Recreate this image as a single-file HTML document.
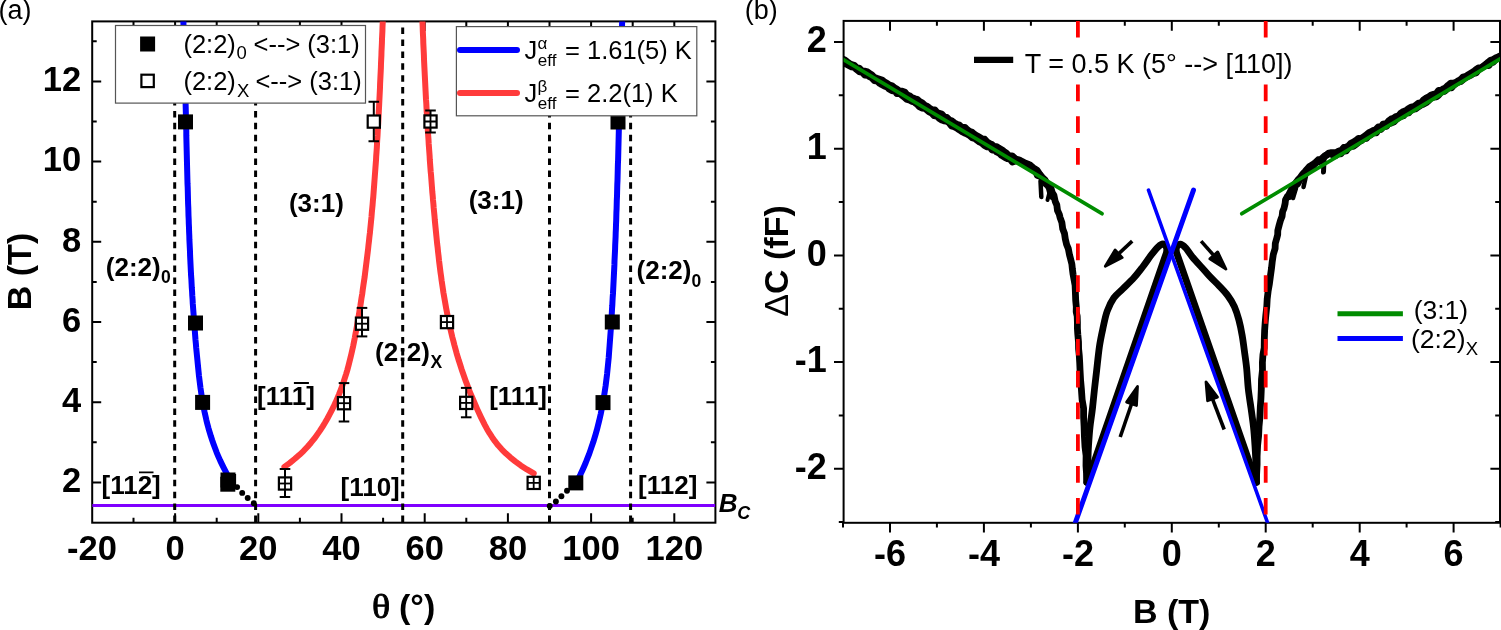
<!DOCTYPE html>
<html><head><meta charset="utf-8"><style>html,body{margin:0;padding:0;background:#fff;overflow:hidden;width:1501px;height:630px}</style></head><body>
<svg width="1501" height="630" viewBox="0 0 1501 630" style="display:block">
<rect width="1501" height="630" fill="#fff"/>
<defs><clipPath id="ca"><rect x="92.2" y="21.4" width="623.1999999999999" height="501.30000000000007"/></clipPath>
<clipPath id="cb"><rect x="843.6" y="20.9" width="656.4" height="501.9"/></clipPath></defs>
<text x="-1.5" y="19.3" font-family="'Liberation Sans', Arial, sans-serif" font-size="27">(a)</text>
<text x="744.8" y="19.3" font-family="'Liberation Sans', Arial, sans-serif" font-size="27">(b)</text>
<rect x="92.2" y="21.4" width="623.1999999999999" height="501.30000000000007" fill="none" stroke="#000" stroke-width="2"/>
<path d="M133.5 522.7 V517.7 M133.5 21.4 V26.4 M175.1 522.7 V513.2 M175.1 21.4 V30.9 M216.7 522.7 V517.7 M216.7 21.4 V26.4 M258.3 522.7 V513.2 M258.3 21.4 V30.9 M299.9 522.7 V517.7 M299.9 21.4 V26.4 M341.5 522.7 V513.2 M341.5 21.4 V30.9 M383.1 522.7 V517.7 M383.1 21.4 V26.4 M424.7 522.7 V513.2 M424.7 21.4 V30.9 M466.3 522.7 V517.7 M466.3 21.4 V26.4 M507.9 522.7 V513.2 M507.9 21.4 V30.9 M549.5 522.7 V517.7 M549.5 21.4 V26.4 M591.1 522.7 V513.2 M591.1 21.4 V30.9 M632.7 522.7 V517.7 M632.7 21.4 V26.4 M674.3 522.7 V513.2 M674.3 21.4 V30.9 M92.2 482.4 H101.2 M715.4 482.4 H706.4 M92.2 442.3 H96.7 M715.4 442.3 H710.9 M92.2 402.2 H101.2 M715.4 402.2 H706.4 M92.2 362.1 H96.7 M715.4 362.1 H710.9 M92.2 322 H101.2 M715.4 322 H706.4 M92.2 281.9 H96.7 M715.4 281.9 H710.9 M92.2 241.8 H101.2 M715.4 241.8 H706.4 M92.2 201.7 H96.7 M715.4 201.7 H710.9 M92.2 161.6 H101.2 M715.4 161.6 H706.4 M92.2 121.5 H96.7 M715.4 121.5 H710.9 M92.2 81.4 H101.2 M715.4 81.4 H706.4 M92.2 41.3 H96.7 M715.4 41.3 H710.9" stroke="#000" stroke-width="2" fill="none"/>
<g clip-path="url(#ca)">
<line x1="92.2" y1="505.4" x2="715.4" y2="505.4" stroke="#7f00ff" stroke-width="3"/>
<line x1="174.7" y1="27.6" x2="174.7" y2="522.7" stroke="#000" stroke-width="3" stroke-dasharray="6.5 5.4"/>
<line x1="255.6" y1="27.6" x2="255.6" y2="522.7" stroke="#000" stroke-width="3" stroke-dasharray="6.5 5.4"/>
<line x1="402.7" y1="27.6" x2="402.7" y2="522.7" stroke="#000" stroke-width="3" stroke-dasharray="6.5 5.4"/>
<line x1="549.5" y1="27.6" x2="549.5" y2="522.7" stroke="#000" stroke-width="3" stroke-dasharray="6.5 5.4"/>
<line x1="630.6" y1="27.6" x2="630.6" y2="522.7" stroke="#000" stroke-width="3" stroke-dasharray="6.5 5.4"/>
<path d="M183.2 15 L183.3 19 L183.4 23 L183.6 27 L183.7 31 L183.8 35.1 L184 39.1 L184.1 43.1 L184.2 47.1 L184.3 51.1 L184.4 55.1 L184.5 59.1 L184.7 63.1 L184.8 67.2 L184.9 71.2 L185 75.2 L185.1 79.2 L185.2 83.2 L185.3 87.2 L185.3 91.2 L185.4 95.2 L185.5 99.3 L185.6 103.3 L185.7 107.3 L185.8 111.3 L185.9 115.3 L186 119.3 L186.1 123.3 L186.2 127.3 L186.3 131.4 L186.3 135.4 L186.4 139.4 L186.5 143.4 L186.6 147.4 L186.7 151.4 L186.8 155.4 L186.9 159.4 L187 163.5 L187.1 167.5 L187.2 171.5 L187.3 175.5 L187.4 179.5 L187.5 183.5 L187.7 187.5 L187.8 191.5 L187.9 195.5 L188 199.6 L188.1 203.6 L188.3 207.6 L188.4 211.6 L188.5 215.6 L188.7 219.6 L188.8 223.6 L189 227.6 L189.1 231.7 L189.3 235.7 L189.4 239.7 L189.6 243.7 L189.8 247.7 L190 251.7 L190.1 255.7 L190.3 259.7 L190.5 263.8 L190.7 267.8 L190.9 271.8 L191.1 275.8 L191.4 279.8 L191.6 283.8 L191.8 287.8 L192.1 291.8 L192.3 295.9 L192.6 299.9 L192.8 303.9 L193.1 307.9 L193.4 311.9 L193.7 315.9 L193.9 319.9 L194.3 323.9 L194.6 327.9 L194.9 332 L195.2 336 L195.5 340 L195.9 344 L196.2 348 L196.6 352 L197 356 L197.4 360 L197.8 364.1 L198.2 368.1 L198.6 372.1 L199 376.1 L199.5 380.1 L200 384.1 L200.5 388.1 L201.1 392.1 L201.7 396.2 L202.4 400.2 L203.1 404.2 L203.8 408.2 L204.6 412.2 L205.5 416.2 L206.4 420.2 L207.4 424.2 L208.5 428.3 L209.7 432.3 L210.9 436.3 L212.2 440.3 L213.6 444.3 L215.1 448.3 L216.6 452.3 L218.3 456.3 L220.1 460.4 L222 464.4 L224 468.4 L226.1 472.4 L228.3 476.4" fill="none" stroke="#0000ff" stroke-width="6" stroke-linecap="round" stroke-linejoin="round"/>
<path d="M622.4 15 L622.3 19 L622.1 23.1 L622 27.1 L621.8 31.1 L621.7 35.2 L621.5 39.2 L621.4 43.2 L621.3 47.3 L621.1 51.3 L621 55.3 L620.9 59.3 L620.8 63.4 L620.6 67.4 L620.5 71.4 L620.4 75.5 L620.3 79.5 L620.2 83.5 L620.1 87.6 L619.9 91.6 L619.8 95.6 L619.7 99.7 L619.6 103.7 L619.5 107.7 L619.4 111.8 L619.3 115.8 L619.2 119.8 L619.1 123.8 L618.9 127.9 L618.8 131.9 L618.7 135.9 L618.6 140 L618.5 144 L618.4 148 L618.3 152.1 L618.2 156.1 L618.1 160.1 L617.9 164.2 L617.8 168.2 L617.7 172.2 L617.6 176.3 L617.5 180.3 L617.3 184.3 L617.2 188.3 L617.1 192.4 L617 196.4 L616.8 200.4 L616.7 204.5 L616.6 208.5 L616.4 212.5 L616.3 216.6 L616.2 220.6 L616 224.6 L615.9 228.7 L615.7 232.7 L615.6 236.7 L615.4 240.8 L615.2 244.8 L615.1 248.8 L614.9 252.8 L614.7 256.9 L614.5 260.9 L614.4 264.9 L614.2 269 L614 273 L613.8 277 L613.6 281.1 L613.4 285.1 L613.2 289.1 L613 293.2 L612.7 297.2 L612.5 301.2 L612.3 305.3 L612 309.3 L611.8 313.3 L611.6 317.3 L611.3 321.4 L611 325.4 L610.8 329.4 L610.5 333.5 L610.2 337.5 L609.9 341.5 L609.6 345.6 L609.3 349.6 L609 353.6 L608.7 357.7 L608.3 361.7 L607.9 365.7 L607.5 369.8 L607.1 373.8 L606.6 377.8 L606.1 381.8 L605.6 385.9 L605 389.9 L604.4 393.9 L603.7 398 L603 402 L602.3 406 L601.5 410.1 L600.7 414.1 L599.8 418.1 L598.8 422.2 L597.8 426.2 L596.8 430.2 L595.6 434.3 L594.4 438.3 L593.2 442.3 L591.8 446.3 L590.4 450.4 L589 454.4 L587.4 458.4 L585.8 462.5 L584.1 466.5 L582.3 470.5 L580.4 474.6 L578.4 478.6" fill="none" stroke="#0000ff" stroke-width="6" stroke-linecap="round" stroke-linejoin="round"/>
<path d="M383 15 L382.9 19 L382.7 23.1 L382.5 27.1 L382.4 31.1 L382.2 35.2 L382 39.2 L381.9 43.2 L381.7 47.3 L381.5 51.3 L381.4 55.3 L381.2 59.4 L381 63.4 L380.9 67.5 L380.7 71.5 L380.5 75.5 L380.3 79.6 L380.1 83.6 L380 87.6 L379.8 91.7 L379.6 95.7 L379.4 99.7 L379.2 103.8 L379 107.8 L378.8 111.8 L378.6 115.9 L378.4 119.9 L378.2 123.9 L377.9 128 L377.7 132 L377.5 136 L377.2 140.1 L377 144.1 L376.8 148.1 L376.5 152.2 L376.2 156.2 L376 160.3 L375.7 164.3 L375.4 168.3 L375.1 172.4 L374.8 176.4 L374.5 180.4 L374.2 184.5 L373.9 188.5 L373.6 192.5 L373.3 196.6 L372.9 200.6 L372.6 204.6 L372.2 208.7 L371.8 212.7 L371.5 216.7 L371.1 220.8 L370.7 224.8 L370.3 228.8 L369.9 232.9 L369.4 236.9 L369 240.9 L368.5 245 L368.1 249 L367.6 253.1 L367.1 257.1 L366.6 261.1 L366.1 265.2 L365.6 269.2 L365.1 273.2 L364.6 277.3 L364 281.3 L363.4 285.3 L362.8 289.4 L362.3 293.4 L361.6 297.4 L361 301.5 L360.4 305.5 L359.7 309.5 L359.1 313.6 L358.4 317.6 L357.7 321.6 L357 325.7 L356.3 329.7 L355.5 333.8 L354.8 337.8 L354 341.8 L353.2 345.9 L352.3 349.9 L351.4 353.9 L350.4 358 L349.4 362 L348.4 366 L347.3 370.1 L346.1 374.1 L344.8 378.1 L343.5 382.2 L342.1 386.2 L340.6 390.2 L339 394.3 L337.3 398.3 L335.6 402.3 L333.7 406.4 L331.7 410.4 L329.6 414.4 L327.4 418.5 L325.1 422.5 L322.6 426.6 L320 430.6 L317.2 434.6 L314.3 438.7 L311 442.7 L307.5 446.7 L303.7 450.8 L299.5 454.8 L294.9 458.8 L289.9 462.9 L284.4 466.9" fill="none" stroke="#ff3b3b" stroke-width="6" stroke-linecap="round" stroke-linejoin="round"/>
<path d="M422.2 15 L422.4 19 L422.5 23 L422.7 27.1 L422.8 31.1 L423 35.1 L423.2 39.1 L423.3 43.1 L423.5 47.2 L423.7 51.2 L423.9 55.2 L424 59.2 L424.2 63.3 L424.4 67.3 L424.6 71.3 L424.8 75.3 L425 79.3 L425.2 83.4 L425.4 87.4 L425.6 91.4 L425.8 95.4 L426 99.4 L426.3 103.5 L426.5 107.5 L426.7 111.5 L427 115.5 L427.2 119.5 L427.4 123.6 L427.7 127.6 L427.9 131.6 L428.2 135.6 L428.5 139.7 L428.7 143.7 L429 147.7 L429.3 151.7 L429.6 155.7 L429.8 159.8 L430.1 163.8 L430.4 167.8 L430.7 171.8 L431.1 175.8 L431.4 179.9 L431.7 183.9 L432 187.9 L432.3 191.9 L432.7 195.9 L433 200 L433.4 204 L433.7 208 L434.1 212 L434.5 216.1 L434.8 220.1 L435.2 224.1 L435.6 228.1 L436 232.1 L436.4 236.2 L436.8 240.2 L437.2 244.2 L437.7 248.2 L438.1 252.2 L438.6 256.3 L439 260.3 L439.5 264.3 L440 268.3 L440.5 272.3 L441.1 276.4 L441.6 280.4 L442.2 284.4 L442.8 288.4 L443.4 292.5 L444.1 296.5 L444.8 300.5 L445.5 304.5 L446.2 308.5 L447 312.6 L447.8 316.6 L448.6 320.6 L449.4 324.6 L450.3 328.6 L451.3 332.7 L452.2 336.7 L453.3 340.7 L454.3 344.7 L455.4 348.7 L456.5 352.8 L457.7 356.8 L458.9 360.8 L460.2 364.8 L461.5 368.9 L462.9 372.9 L464.3 376.9 L465.7 380.9 L467.2 384.9 L468.7 389 L470.3 393 L472 397 L473.7 401 L475.4 405 L477.2 409.1 L479 413.1 L480.9 417.1 L482.9 421.1 L484.9 425.1 L487.1 429.2 L489.5 433.2 L492.1 437.2 L494.9 441.2 L498.1 445.3 L501.7 449.3 L505.7 453.3 L510.2 457.3 L515.2 461.3 L520.7 465.4 L526.9 469.4 L533.7 473.4" fill="none" stroke="#ff3b3b" stroke-width="6" stroke-linecap="round" stroke-linejoin="round"/>
<circle cx="237.1" cy="487.1" r="2.95" fill="#000"/>
<circle cx="242.2" cy="492.9" r="2.95" fill="#000"/>
<circle cx="247.7" cy="498" r="2.95" fill="#000"/>
<circle cx="253.8" cy="503.2" r="2.95" fill="#000"/>
<circle cx="572.5" cy="486" r="2.95" fill="#000"/>
<circle cx="567" cy="490.8" r="2.95" fill="#000"/>
<circle cx="561.4" cy="496.3" r="2.95" fill="#000"/>
<circle cx="555.9" cy="501.5" r="2.95" fill="#000"/>
<circle cx="549.7" cy="505.9" r="2.95" fill="#000"/>
<rect x="178" y="114.4" width="15" height="15" fill="#000"/>
<rect x="188" y="315.5" width="15" height="15" fill="#000"/>
<rect x="195.1" y="394.9" width="15" height="15" fill="#000"/>
<rect x="220.5" y="472.5" width="15" height="15" fill="#000"/>
<rect x="220.3" y="476.7" width="15" height="15" fill="#000"/>
<rect x="221.1" y="474" width="15" height="15" fill="#000"/>
<rect x="610.5" y="114.5" width="15" height="15" fill="#000"/>
<rect x="604.8" y="314.5" width="15" height="15" fill="#000"/>
<rect x="595.5" y="395.1" width="15" height="15" fill="#000"/>
<rect x="568.3" y="475.4" width="15" height="15" fill="#000"/>
<line x1="373.8" y1="101.7" x2="373.8" y2="141.3" stroke="#000" stroke-width="2"/>
<line x1="368.5" y1="101.7" x2="379.1" y2="101.7" stroke="#000" stroke-width="2"/>
<line x1="368.5" y1="141.3" x2="379.1" y2="141.3" stroke="#000" stroke-width="2"/>
<rect x="367.7" y="115.5" width="12.2" height="12.2" fill="#fff" stroke="#000" stroke-width="2.2"/>
<line x1="362" y1="307.9" x2="362" y2="336.4" stroke="#000" stroke-width="2"/>
<line x1="356.7" y1="307.9" x2="367.3" y2="307.9" stroke="#000" stroke-width="2"/>
<line x1="356.7" y1="336.4" x2="367.3" y2="336.4" stroke="#000" stroke-width="2"/>
<rect x="355.9" y="317.6" width="12.2" height="12.2" fill="#fff" stroke="#000" stroke-width="2.2"/>
<line x1="362" y1="317.6" x2="362" y2="329.8" stroke="#000" stroke-width="1.8"/>
<line x1="355.9" y1="323.7" x2="368.1" y2="323.7" stroke="#000" stroke-width="1.8"/>
<line x1="344" y1="383.1" x2="344" y2="421.5" stroke="#000" stroke-width="2"/>
<line x1="338.7" y1="383.1" x2="349.3" y2="383.1" stroke="#000" stroke-width="2"/>
<line x1="338.7" y1="421.5" x2="349.3" y2="421.5" stroke="#000" stroke-width="2"/>
<rect x="337.9" y="397.1" width="12.2" height="12.2" fill="#fff" stroke="#000" stroke-width="2.2"/>
<line x1="344" y1="397.1" x2="344" y2="409.3" stroke="#000" stroke-width="1.8"/>
<line x1="337.9" y1="403.2" x2="350.1" y2="403.2" stroke="#000" stroke-width="1.8"/>
<line x1="285" y1="469" x2="285" y2="497" stroke="#000" stroke-width="2"/>
<line x1="279.7" y1="469" x2="290.3" y2="469" stroke="#000" stroke-width="2"/>
<line x1="279.7" y1="497" x2="290.3" y2="497" stroke="#000" stroke-width="2"/>
<rect x="278.9" y="477.4" width="12.2" height="12.2" fill="#fff" stroke="#000" stroke-width="2.2"/>
<line x1="285" y1="477.4" x2="285" y2="489.6" stroke="#000" stroke-width="1.8"/>
<line x1="278.9" y1="483.5" x2="291.1" y2="483.5" stroke="#000" stroke-width="1.8"/>
<line x1="430.5" y1="110.6" x2="430.5" y2="132.6" stroke="#000" stroke-width="2"/>
<line x1="425.2" y1="110.6" x2="435.8" y2="110.6" stroke="#000" stroke-width="2"/>
<line x1="425.2" y1="132.6" x2="435.8" y2="132.6" stroke="#000" stroke-width="2"/>
<rect x="424.4" y="115.4" width="12.2" height="12.2" fill="#fff" stroke="#000" stroke-width="2.2"/>
<line x1="430.5" y1="115.4" x2="430.5" y2="127.6" stroke="#000" stroke-width="1.8"/>
<line x1="424.4" y1="121.5" x2="436.6" y2="121.5" stroke="#000" stroke-width="1.8"/>
<rect x="440.9" y="316" width="12.2" height="12.2" fill="#fff" stroke="#000" stroke-width="2.2"/>
<line x1="447" y1="316" x2="447" y2="328.2" stroke="#000" stroke-width="1.8"/>
<line x1="440.9" y1="322.1" x2="453.1" y2="322.1" stroke="#000" stroke-width="1.8"/>
<line x1="466.2" y1="387.9" x2="466.2" y2="417.3" stroke="#000" stroke-width="2"/>
<line x1="460.9" y1="387.9" x2="471.5" y2="387.9" stroke="#000" stroke-width="2"/>
<line x1="460.9" y1="417.3" x2="471.5" y2="417.3" stroke="#000" stroke-width="2"/>
<rect x="460.1" y="396.8" width="12.2" height="12.2" fill="#fff" stroke="#000" stroke-width="2.2"/>
<line x1="466.2" y1="396.8" x2="466.2" y2="409" stroke="#000" stroke-width="1.8"/>
<line x1="460.1" y1="402.9" x2="472.3" y2="402.9" stroke="#000" stroke-width="1.8"/>
<rect x="527.6" y="476.8" width="12.2" height="12.2" fill="#fff" stroke="#000" stroke-width="2.2"/>
<line x1="533.7" y1="476.8" x2="533.7" y2="489" stroke="#000" stroke-width="1.8"/>
<line x1="527.6" y1="482.9" x2="539.8" y2="482.9" stroke="#000" stroke-width="1.8"/>
</g>
<g font-family="'Liberation Sans', Arial, sans-serif" font-weight="bold" font-size="34.5"><text x="91.9" y="559.8" text-anchor="middle">-20</text><text x="175.1" y="559.8" text-anchor="middle">0</text><text x="258.3" y="559.8" text-anchor="middle">20</text><text x="341.5" y="559.8" text-anchor="middle">40</text><text x="424.7" y="559.8" text-anchor="middle">60</text><text x="507.9" y="559.8" text-anchor="middle">80</text><text x="591.1" y="559.8" text-anchor="middle">100</text><text x="674.3" y="559.8" text-anchor="middle">120</text><text x="81.2" y="492.2" text-anchor="end">2</text><text x="81.2" y="412" text-anchor="end">4</text><text x="81.2" y="331.8" text-anchor="end">6</text><text x="81.2" y="251.6" text-anchor="end">8</text><text x="81.2" y="171.4" text-anchor="end">10</text><text x="81.2" y="91.2" text-anchor="end">12</text></g>
<text transform="translate(30.8 271.5) rotate(-90)" text-anchor="middle" font-family="'Liberation Sans', Arial, sans-serif" font-weight="bold" font-size="34">B (T)</text>
<text transform="translate(372 617.8) scale(1.1 1)" font-family="'Liberation Serif', serif" font-size="34.5" stroke="#000" stroke-width="0.8">θ</text>
<text x="399" y="617.6" font-family="'Liberation Sans', Arial, sans-serif" font-size="34" font-weight="bold">(°)</text>
<g font-family="'Liberation Sans', Arial, sans-serif" font-weight="bold" font-size="26"><text x="288.9" y="212.1" text-anchor="start">(3:1)</text><text x="468.7" y="209.1" text-anchor="start">(3:1)</text><text x="105.8" y="275.7" text-anchor="start">(2:2)</text><text x="636.6" y="279.3" text-anchor="start">(2:2)</text><text x="375.1" y="361" text-anchor="start">(2:2)</text><text x="257" y="404.7" text-anchor="start">[111]</text><text x="489.2" y="405" text-anchor="start">[111]</text><text x="101.5" y="494.4" text-anchor="start">[112]</text><text x="340.5" y="495.8" text-anchor="start">[110]</text><text x="638.1" y="493.7" text-anchor="start">[112]</text></g>
<g font-family="'Liberation Sans', Arial, sans-serif" font-weight="bold" font-size="17.5"><text x="160.9" y="282.9">0</text><text x="691.4" y="286.6">0</text><text x="430.4" y="368.2">X</text></g>
<path d="M293.9 383H308.9M139 472.4H153.5" stroke="#000" stroke-width="1.9"/>
<text x="718.7" y="511.6" font-family="'Liberation Sans', Arial, sans-serif" font-weight="bold" font-style="italic" font-size="26">B</text>
<text x="737.3" y="518.9" font-family="'Liberation Sans', Arial, sans-serif" font-weight="bold" font-style="italic" font-size="18">C</text>
<rect x="115.5" y="25.5" width="250" height="77.6" fill="#fff" stroke="#555" stroke-width="1.2"/>
<rect x="140.1" y="36.5" width="15" height="15" fill="#000"/>
<rect x="141.4" y="74.7" width="12.4" height="12.4" fill="#fff" stroke="#000" stroke-width="2.2"/>
<g font-family="'Liberation Sans', Arial, sans-serif" font-size="25.5"><text x="183.4" y="52.5">(2:2)</text><text x="236.5" y="59.4" font-size="18.5">0</text><text x="253.5" y="52.5">&lt;--&gt; (3:1)</text><text x="183.4" y="90">(2:2)</text><text x="237" y="96.7" font-size="18.5">X</text><text x="255.4" y="90">&lt;--&gt; (3:1)</text></g>
<rect x="456.4" y="26.6" width="240.4" height="89.2" fill="#fff" stroke="#555" stroke-width="1.2"/>
<line x1="460" y1="50" x2="517" y2="50" stroke="#0000ff" stroke-width="6" stroke-linecap="round"/>
<line x1="460" y1="93" x2="517" y2="93" stroke="#ff3b3b" stroke-width="6" stroke-linecap="round"/>
<g font-family="'Liberation Sans', Arial, sans-serif" font-size="25.5"><text x="524.6" y="59">J</text><text x="537.5" y="49.2" font-size="17">α</text><text x="537.8" y="65.7" font-size="17">eff</text><text x="565" y="59">= 1.61(5) K</text><text x="524.6" y="101.7">J</text><text x="537.5" y="91.8" font-size="17">β</text><text x="537.8" y="108.6" font-size="17">eff</text><text x="565" y="101.7">= 2.2(1) K</text></g>
<rect x="843.6" y="20.9" width="656.4" height="501.9" fill="none" stroke="#000" stroke-width="2"/>
<path d="M843 522.8 V527.6 M890 522.8 V532.6 M890 20.9 V30.7 M936.9 522.8 V527.6 M936.9 20.9 V25.7 M983.9 522.8 V532.6 M983.9 20.9 V30.7 M1030.9 522.8 V527.6 M1030.9 20.9 V25.7 M1077.9 522.8 V532.6 M1077.9 20.9 V30.7 M1124.8 522.8 V527.6 M1124.8 20.9 V25.7 M1171.8 522.8 V532.6 M1171.8 20.9 V30.7 M1218.8 522.8 V527.6 M1218.8 20.9 V25.7 M1265.7 522.8 V532.6 M1265.7 20.9 V30.7 M1312.7 522.8 V527.6 M1312.7 20.9 V25.7 M1359.7 522.8 V532.6 M1359.7 20.9 V30.7 M1406.6 522.8 V527.6 M1406.6 20.9 V25.7 M1453.6 522.8 V532.6 M1453.6 20.9 V30.7 M1500.6 522.8 V527.6 M843.6 522.1 H838.8 M1500.0 522.1 H1495.2 M843.6 468.8 H834 M1500.0 468.8 H1490.4 M843.6 415.5 H838.8 M1500.0 415.5 H1495.2 M843.6 362.1 H834 M1500.0 362.1 H1490.4 M843.6 308.8 H838.8 M1500.0 308.8 H1495.2 M843.6 255.4 H834 M1500.0 255.4 H1490.4 M843.6 202.1 H838.8 M1500.0 202.1 H1495.2 M843.6 148.7 H834 M1500.0 148.7 H1490.4 M843.6 95.3 H838.8 M1500.0 95.3 H1495.2 M843.6 42 H834 M1500.0 42 H1490.4" stroke="#000" stroke-width="2" fill="none"/>
<g clip-path="url(#cb)">
<path d="M841.8 58.6 L844.7 59.8 L847 61.7 L849.1 63.3 L851.5 64.5 L854.1 65.2 L856.9 68 L859.1 68.1 L862.1 70.9 L864.6 71.2 L867.5 71.8 L869.9 73.7 L871.6 74.7 L874.3 77.4 L876.7 78.3 L879.6 79.2 L882 79.9 L884.1 81.6 L887.2 83.4 L889.3 85 L892 85.8 L894.8 87.9 L896.7 89 L899.5 91 L902.2 91.2 L905 92.2 L906.9 94.8 L909.2 95.6 L911.5 97.3 L914.8 98.6 L917.4 99.5 L919.7 101.6 L922.1 102.8 L924.8 105.3 L927 106.2 L929.1 107.8 L932.1 109.8 L934.8 109.9 L936.9 112.2 L939 113.2 L941.7 114 L944.1 116.8 L946.6 117.3 L949.4 120 L951.6 120.7 L954.5 123 L957.3 124.5 L959.3 125.1 L961.9 127.5 L965 127.5 L966.7 129.2 L969.2 131.2 L972.1 132.2 L974 134 L976.9 135.8 L980 137.5 L982 138.9 L984.7 139.2 L987.4 142.2 L989.9 143.7 L991.9 144.4 L994.1 146.4 L996.6 146.7 L999.2 148.4 L1001.8 149.7 L1004 151.4 L1006.6 153.3 L1009 155.8 L1012.1 155.8 L1015.7 159.1 L1018.8 159.8 L1022.4 163.2 L1025.2 163.7 L1028 164.5 L1031.6 167.7 L1035.4 170.2 L1037.3 175.3 L1040.7 176.7 L1043.2 178.9 L1045.5 183.6 L1047.9 185.7 L1049.1 187.7 L1050.5 192.7 L1052.3 196.7" fill="none" stroke="#000" stroke-width="6.8" stroke-linejoin="round" stroke-linecap="round"/>
<path d="M841.8 60.7 L844.8 63.6 L847.4 64.7 L849.8 66 L851.7 67 L854.4 67.5 L856.5 69.4 L859.3 71.7 L862.5 72.6 L864.9 75.1 L867.5 75.3 L869.2 76.5 L871.7 77.9 L874.6 80.7 L877.3 81.3 L879.7 83.4 L881.6 84.5 L884.9 86.2 L887.3 87 L889.2 89.1 L891.8 90.6 L895 91.2 L896.9 93.7 L899.7 93.6 L901.6 95 L904.9 97.7 L906.6 99.2 L910 100.3 L911.9 101.5 L914.1 102 L917.5 104.7 L919.5 106.8 L921.9 108.1 L924.8 108.3 L926.8 109.9 L929.2 112 L931.8 113.2 L934.1 115.7 L936.9 116.2 L939.6 118.6 L941.9 120.1 L944.5 120.9 L947 121.3 L949.4 123.1 L951.5 125.9 L954.2 126.7 L957.2 128.4 L959.3 129.8 L962.1 131.8 L964.1 132.8 L966.7 133.8 L969.8 135.7 L972.1 137.7 L974.9 138.6 L977.1 140.2 L979.5 142 L982 143.2 L984.5 145.5 L987.2 146.9 L989.9 147.1 L992.1 150 L994.8 149.9 L996.6 152 L999.1 153.1 L1001.6 155.4 L1004.8 157.3 L1006.7 158.5 L1009.7 158.8 L1012.4 162 L1017.5 160.3 L1020.7 160.7 L1024.2 162.6 L1026.7 163.6 L1030.3 165.2 L1033.3 167.9 L1037 170.1 L1039.7 174.1 L1042.1 177.2 L1045 180 L1046.9 183.4 L1049.5 186.1 L1050.8 187.6 L1052.2 192.5 L1053.9 195.3 L1055.2 201.4 L1056.8 205 L1057.5 210.5 L1059.3 214.4 L1060.1 217.6 L1061.9 222.7 L1062.7 228.7 L1064.5 233.5 L1065.3 239 L1066.6 244.5 L1068.3 248.6 L1069.5 254.8 L1070.5 258.7 L1071.9 264.3 L1072.4 269.3 L1073.1 274.5 L1074.1 280 L1075.1 285.3 L1075.3 290.3 L1075.5 295.1 L1075.7 300.4 L1076.3 306.7 L1076.2 311.8 L1077.2 316.3 L1077.4 322.2 L1077.4 328.2 L1077.8 334.3 L1078.5 341.9 L1078.6 348.8 L1079.3 355.7 L1079.7 362.5 L1080 369.3 L1080.6 380.4 L1081.4 389.4 L1082.1 399.6 L1083.6 408.3 L1083.6 417 L1084.1 426.9 L1084.4 436.4 L1085 446.8 L1086.1 455.6 L1086 465.8 L1086.5 473.4 L1086.7 482.2" fill="none" stroke="#000" stroke-width="6.8" stroke-linejoin="round" stroke-linecap="round"/>
<path d="M1040.5 181 L1041.3 197" stroke="#000" stroke-width="4.5" stroke-linecap="round"/>
<path d="M1050 190 L1047.5 200" stroke="#000" stroke-width="4" stroke-linecap="round"/>
<path d="M1501 55.5 L1498.2 56.9 L1495.5 57.9 L1493.1 59.6 L1490.5 60.2 L1488.3 62.1 L1486.1 64.1 L1483.8 65.8 L1481.2 67.7 L1478.4 68 L1476.5 69.1 L1473.7 71.5 L1470.5 73.4 L1468.9 74.4 L1466.2 76.2 L1463.1 77 L1461 79.1 L1458.8 80.5 L1456.1 82.1 L1453.7 83.1 L1450.7 83.2 L1448.1 85.3 L1445.6 87.7 L1443.6 88.7 L1441.1 90.3 L1438.5 90.4 L1436.3 93.4 L1433.5 94.4 L1431.2 95 L1428.7 96.9 L1425.6 98.4 L1423.7 99.8 L1421.2 102.8 L1418.5 103.1 L1416 105.2 L1413.8 106.6 L1411.1 107 L1408.1 108.9 L1406.2 110.5 L1403.6 111.4 L1400.6 113.4 L1398.7 115.7 L1396.2 116.4 L1393.5 118.3 L1391 119.1 L1388.9 120.7 L1386.5 123.7 L1383 124.2 L1381.3 126.8 L1378.4 126.9 L1375.7 129.7 L1373.2 130.5 L1370.6 131.9 L1369 132.6 L1366.3 134.8 L1363.9 136.7 L1360.7 138.6 L1358.5 138.3 L1355.5 140.8 L1353.5 141.9 L1350.6 143.5 L1348.3 146 L1345.5 147.3 L1343.8 147.5 L1341.4 150.2 L1338.9 150.9 L1335.9 152.6 L1330.6 152.7 L1327.8 154.3 L1325.6 155.4 L1322.5 159.3 L1319.7 161.5 L1316.9 162.2 L1314.4 164.3 L1311.5 168.3 L1309.5 170.2 L1306.8 172.9 L1304.8 174.4 L1302.2 176.1 L1299.8 179.9 L1297.8 183.8 L1295.1 185.9 L1294.2 188.6 L1292 191.6 L1290.3 195.1 L1289.6 196.5" fill="none" stroke="#000" stroke-width="6.8" stroke-linejoin="round" stroke-linecap="round"/>
<path d="M1501.2 56.7 L1498.6 58.4 L1495.7 59.5 L1493.2 62.4 L1491 62.6 L1488.9 65.6 L1485.9 65.4 L1483.2 66.8 L1480.8 68.3 L1478.2 70.1 L1476.1 72.9 L1473.7 73.4 L1470.9 75.2 L1468.4 76.3 L1465.6 77.7 L1464 78.9 L1461 81.4 L1458.9 82 L1455.8 83.6 L1453.4 85.5 L1451.5 87.8 L1448.9 87.6 L1445.5 90.5 L1443.9 91.5 L1441.1 92.1 L1438.4 95.4 L1436.3 96.8 L1434 97.1 L1430.6 98.4 L1428.5 100.9 L1426.4 102.5 L1423.6 104.1 L1421 105.2 L1418 107.1 L1415.7 108.9 L1413.6 109.2 L1410.6 110.6 L1408.6 112.9 L1405.6 113.2 L1403.5 115.7 L1400.9 116.5 L1398.6 117.6 L1395.8 120 L1394 121.8 L1391.4 123 L1388.2 124 L1386.5 126.4 L1383.3 126.6 L1381 129.4 L1378.4 130 L1376.2 132.9 L1373.2 132.6 L1370.8 134.9 L1368.7 135.9 L1366.3 138.5 L1363.5 138.9 L1361.5 140.6 L1358.8 142 L1355.7 144.5 L1353.3 146.4 L1351 146.4 L1348.2 148.3 L1346.2 150.9 L1343.1 151.3 L1340.7 153.9 L1338.1 153.6 L1335.6 155.8 L1328.6 153.2 L1326.4 155.4 L1324.5 156.2 L1320.9 159.3 L1318.4 159.7 L1315.5 162.5 L1312.5 164.7 L1309.6 166.4 L1307 169.2 L1305.3 171.2 L1302.9 173.8 L1300 177.7 L1298 179.9 L1295.2 183.5 L1293.5 187.8 L1291.6 189.3 L1290.6 191.2 L1288.6 195.1 L1287.4 196.3 L1285.5 199.8 L1285.1 203.6 L1283.9 208.7 L1282.6 211.6 L1282.1 216.2 L1280.5 220.4 L1279.3 224.6 L1277.8 230.5 L1277.7 234.7 L1276.8 238.1 L1275.3 243.4 L1275.1 248.6 L1273.3 254.5 L1272.2 262 L1271.5 268.3 L1270.4 276.2 L1269.4 283.9 L1268.2 290.7 L1267.2 298.9 L1266.8 306.4 L1265.8 315.6 L1265.2 322.2 L1264.6 331.1 L1264.3 339.9 L1264.2 347.9 L1263 354.3 L1262.4 362.5 L1262.5 369.9 L1261.5 379.4 L1261.3 389.3 L1260.9 399.1 L1260.3 407.3 L1259.9 417.1 L1259 426.8 L1258.6 436 L1257.6 445.5 L1257.1 456.2 L1257.1 464.7 L1256.6 474.6 L1256.4 481.9" fill="none" stroke="#000" stroke-width="6.8" stroke-linejoin="round" stroke-linecap="round"/>
<path d="M1306 176 L1303.5 187" stroke="#000" stroke-width="4.5" stroke-linecap="round"/>
<path d="M1324 160 L1323.5 172" stroke="#000" stroke-width="5" stroke-linecap="round"/>
<path d="M1296 188 L1293 198" stroke="#000" stroke-width="4.5" stroke-linecap="round"/>
<path d="M1087.1 482.4 C1087.2 479.5 1087.6 471.1 1087.8 465 C1088 458.9 1088.1 452.3 1088.5 446 C1088.9 439.7 1089.3 433.3 1090 427 C1090.7 420.7 1091.8 414.3 1092.5 408 C1093.2 401.7 1093.8 395.3 1094.5 389 C1095.2 382.7 1095.9 377.1 1096.7 370 C1097.5 362.9 1098.4 353.6 1099.4 346.7 C1100.4 339.8 1101.5 334.8 1102.8 328.9 C1104.1 323 1105.3 316.3 1107.2 311.1 C1109.1 305.9 1111.3 301.5 1113.9 297.8 C1116.5 294.1 1119.5 292.2 1122.8 288.9 C1126.1 285.6 1130.6 281.5 1133.9 277.8 C1137.2 274.1 1139.8 270.6 1142.8 266.7 C1145.8 262.8 1149.1 257.7 1151.7 254.4 C1154.3 251.1 1156.5 248.4 1158.3 246.7 C1160.1 245 1161.5 244 1162.8 244 C1164.1 244 1165.4 245.5 1166.1 246.7 C1166.8 247.9 1166.8 250.3 1167 251" fill="none" stroke="#000" stroke-width="6.8" stroke-linejoin="round" stroke-linecap="round"/>
<path d="M1167 251 L1087.1 482.4" fill="none" stroke="#000" stroke-width="6.8" stroke-linejoin="round" stroke-linecap="round"/>
<path d="M1256.4 482.4 C1256.3 479.5 1256.2 471.1 1256 465 C1255.8 458.9 1255.4 452.3 1255 446 C1254.6 439.7 1254.2 433.3 1253.5 427 C1252.8 420.7 1251.9 414.3 1251 408 C1250.1 401.7 1249 395.5 1248.3 389 C1247.6 382.5 1247.3 375.2 1246.7 368.9 C1246.1 362.6 1245.2 356.7 1244.4 351.1 C1243.7 345.6 1243.1 340.8 1242.2 335.6 C1241.3 330.4 1240.2 324.8 1238.9 320 C1237.6 315.2 1236.2 310.8 1234.4 306.7 C1232.6 302.6 1230.4 299.1 1227.8 295.6 C1225.2 292.1 1221.9 288.8 1218.9 285.6 C1215.9 282.5 1213 279.9 1210 276.7 C1207 273.5 1204.1 270 1201.1 266.7 C1198.1 263.4 1194.8 259.8 1192.2 256.7 C1189.6 253.5 1187.5 249.9 1185.6 247.8 C1183.6 245.7 1181.9 244.4 1180.5 244.2 C1179.1 244 1177.8 245.4 1177 246.5 C1176.2 247.6 1176.2 250.2 1176 251" fill="none" stroke="#000" stroke-width="6.8" stroke-linejoin="round" stroke-linecap="round"/>
<path d="M1176 251 L1256.4 482.4" fill="none" stroke="#000" stroke-width="6.8" stroke-linejoin="round" stroke-linecap="round"/>
<line x1="838" y1="56.3" x2="1102" y2="213.7" stroke="#008c00" stroke-width="3.7" stroke-linecap="round"/>
<line x1="1241.8" y1="213.7" x2="1505" y2="56" stroke="#008c00" stroke-width="3.7" stroke-linecap="round"/>
<line x1="1148.5" y1="190.1" x2="1267.6" y2="522.8" stroke="#0000ff" stroke-width="3.6" stroke-linecap="round"/>
<line x1="1193.5" y1="190.1" x2="1075.3" y2="522.8" stroke="#0000ff" stroke-width="5" stroke-linecap="round"/>
<line x1="1077.9" y1="20.9" x2="1077.9" y2="522.8" stroke="#ff0000" stroke-width="3.8" stroke-dasharray="16.7 15.1"/>
<line x1="1265.7" y1="20.9" x2="1265.7" y2="522.8" stroke="#ff0000" stroke-width="3.8" stroke-dasharray="16.7 15.1"/>
</g>
<rect x="965" y="38" width="330" height="46" fill="#fff"/>
<line x1="1132.2" y1="241.1" x2="1117.2" y2="255.1" stroke="#000" stroke-width="3.6"/>
<path d="M1105.3 266.3 L1115.1 249.9 L1122.2 257.6 Z" fill="#000" stroke="#000" stroke-width="2.8" stroke-linejoin="round"/>
<line x1="1201.1" y1="241.1" x2="1215.1" y2="256.9" stroke="#000" stroke-width="3.6"/>
<path d="M1225.9 269.1 L1209.8 258.9 L1217.7 251.9 Z" fill="#000" stroke="#000" stroke-width="2.8" stroke-linejoin="round"/>
<line x1="1120.2" y1="437" x2="1132.2" y2="402" stroke="#000" stroke-width="3.6"/>
<path d="M1137.5 386.5 L1136.5 405.5 L1126.6 402.1 Z" fill="#000" stroke="#000" stroke-width="2.8" stroke-linejoin="round"/>
<line x1="1224.2" y1="429.5" x2="1211.8" y2="397.1" stroke="#000" stroke-width="3.6"/>
<path d="M1206 381.8 L1217.5 397.1 L1207.6 400.8 Z" fill="#000" stroke="#000" stroke-width="2.8" stroke-linejoin="round"/>
<g font-family="'Liberation Sans', Arial, sans-serif" font-weight="bold" font-size="36"><text x="890" y="566.4" text-anchor="middle">-6</text><text x="983.9" y="566.4" text-anchor="middle">-4</text><text x="1077.9" y="566.4" text-anchor="middle">-2</text><text x="1171.8" y="566.4" text-anchor="middle">0</text><text x="1265.7" y="566.4" text-anchor="middle">2</text><text x="1359.7" y="566.4" text-anchor="middle">4</text><text x="1453.6" y="566.4" text-anchor="middle">6</text><text x="826.8" y="479" text-anchor="end">-2</text><text x="826.8" y="372.3" text-anchor="end">-1</text><text x="826.8" y="265.6" text-anchor="end">0</text><text x="826.8" y="158.9" text-anchor="end">1</text><text x="826.8" y="52.2" text-anchor="end">2</text></g>
<text x="1133" y="622.8" font-family="'Liberation Sans', Arial, sans-serif" font-weight="bold" font-size="34">B (T)</text>
<text transform="translate(788 261) rotate(-90)" text-anchor="middle" font-family="'Liberation Sans', Arial, sans-serif" font-weight="bold" font-size="34"><tspan font-weight="normal">Δ</tspan>C (fF)</text>
<line x1="974" y1="59.8" x2="1013.2" y2="59.8" stroke="#000" stroke-width="6.3"/>
<text x="1024.7" y="72.7" font-family="'Liberation Sans', Arial, sans-serif" font-size="27">T = 0.5 K (5° --&gt; [110])</text>
<line x1="1337.5" y1="313.8" x2="1402.9" y2="313.8" stroke="#008c00" stroke-width="5"/>
<line x1="1337.5" y1="338.4" x2="1402.9" y2="338.4" stroke="#0000ff" stroke-width="5"/>
<g font-family="'Liberation Sans', Arial, sans-serif" font-size="26.5"><text x="1413.7" y="318.9">(3:1)</text><text x="1411" y="348.3">(2:2)</text><text x="1465.8" y="355.4" font-size="18.5">X</text></g>
</svg>
</body></html>
